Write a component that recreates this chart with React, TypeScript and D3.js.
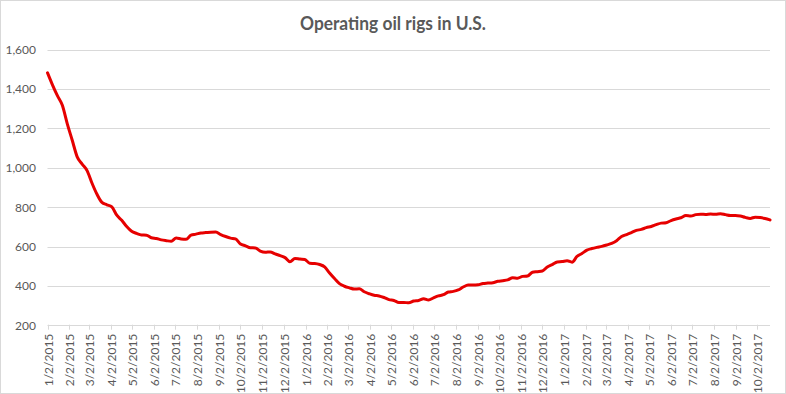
import React from "react";
import * as d3 from "d3";

const W = 786;
const H = 394;

const TITLE = "Operating oil rigs in U.S.";
const START_DATE = "2015-01-02";
const END_DATE = "2017-10-20";

// Weekly US oil rig counts, one value per Friday starting 1/2/2015
const rigs2015: number[] = [
  1482, 1421, 1366, 1317, 1223, 1140, 1056, 1019, 986, 922, 866, 825, 813,
  802, 760, 734, 703, 679, 668, 660, 659, 646, 642, 635, 631, 628, 645, 640,
  638, 659, 664, 670, 672, 674, 675, 662, 652, 644, 640, 614, 605, 595, 594,
  578, 572, 574, 564, 555, 545, 524, 541, 538, 536,
];
const rigs2016: number[] = [
  516, 515, 510, 498, 467, 439, 413, 400, 392, 386, 387, 372, 362, 354, 351,
  343, 332, 328, 318, 318, 316, 325, 328, 337, 330, 341, 351, 357, 371, 374,
  381, 396, 406, 406, 407, 414, 416, 418, 425, 428, 432, 443, 441, 450, 452,
  471, 474, 477, 498, 510, 523, 525,
];
const rigs2017: number[] = [
  529, 522, 551, 566, 583, 591, 597, 602, 609, 617, 631, 652, 662, 672, 683,
  688, 697, 703, 712, 720, 722, 733, 741, 747, 758, 756, 763, 765, 764, 766,
  765, 768, 763, 759, 759, 756, 749, 744, 750, 748, 743, 736,
];

const yTicks: number[] = [200, 400, 600, 800, 1000, 1200, 1400, 1600];
const xTickLabels: string[] = [
  "1/2/2015", "2/2/2015", "3/2/2015", "4/2/2015", "5/2/2015", "6/2/2015",
  "7/2/2015", "8/2/2015", "9/2/2015", "10/2/2015", "11/2/2015", "12/2/2015",
  "1/2/2016", "2/2/2016", "3/2/2016", "4/2/2016", "5/2/2016", "6/2/2016",
  "7/2/2016", "8/2/2016", "9/2/2016", "10/2/2016", "11/2/2016", "12/2/2016",
  "1/2/2017", "2/2/2017", "3/2/2017", "4/2/2017", "5/2/2017", "6/2/2017",
  "7/2/2017", "8/2/2017", "9/2/2017", "10/2/2017",
];

const parseLabel = (s: string) => {
  const [m, d, y] = s.split("/").map(Number);
  return new Date(y, m - 1, d);
};
const parseIso = (s: string) => {
  const [y, m, d] = s.split("-").map(Number);
  return new Date(y, m - 1, d);
};

export default function App() {
  const values = [...rigs2015, ...rigs2016, ...rigs2017];
  const start = parseIso(START_DATE);
  const data = values.map((v, i) => ({
    date: d3.timeDay.offset(start, i * 7),
    value: v,
  }));

  const plotLeft = 47.5;
  const plotRight = 770;
  const plotTop = 49.5;
  const plotBottom = 325.7;

  const x = d3
    .scaleTime()
    .domain([start, parseIso(END_DATE)])
    .range([plotLeft, plotRight]);
  const y = d3.scaleLinear().domain([200, 1600]).range([plotBottom, plotTop]);

  const line = d3
    .line<{ date: Date; value: number }>()
    .x((d) => x(d.date))
    .y((d) => y(d.value))
    .curve(d3.curveMonotoneX);

  const fmt = d3.format(",");
  const labelColor = "#595959";
  const gridColor = "#d9d9d9";
  const font = "Lato, 'Open Sans', sans-serif";

  return (
    <svg
      width={W}
      height={H}
      style={{ position: "absolute", left: 0, top: 0, background: "#fff" }}
    >
      <rect x={0.5} y={0.5} width={W - 1} height={H - 1} fill="#fff" stroke={gridColor} />
      <text
        x={393}
        y={30}
        textAnchor="middle"
        fontFamily={font}
        fontWeight={700}
        fontSize={18.5}
        textLength={186}
        lengthAdjust="spacingAndGlyphs"
        fill={labelColor}
      >
        {TITLE}
      </text>
      {yTicks.map((t) => (
        <g key={t}>
          {t !== 200 && (
            <line
              x1={plotLeft}
              x2={plotRight}
              y1={Math.round(y(t)) + 0.5}
              y2={Math.round(y(t)) + 0.5}
              stroke={gridColor}
              strokeWidth={1}
            />
          )}
          <text
            x={36}
            y={y(t)}
            dy="0.35em"
            textAnchor="end"
            fontFamily={font}
            fontSize={12}
            fill={labelColor}
          >
            {fmt(t)}
          </text>
        </g>
      ))}
      <line
        x1={plotLeft}
        x2={plotRight}
        y1={Math.round(plotBottom) - 0.5}
        y2={Math.round(plotBottom) - 0.5}
        stroke={gridColor}
      />
      {xTickLabels.map((lab) => {
        const px = Math.round(x(parseLabel(lab))) + 0.5;
        return (
          <g key={lab}>
            <line
              x1={px}
              x2={px}
              y1={plotBottom - 1}
              y2={plotBottom + 4}
              stroke={gridColor}
            />
            <text
              transform={`translate(${px + 4},${plotBottom + 8}) rotate(-90)`}
              textAnchor="end"
              fontFamily={font}
              fontSize={12}
              fill={labelColor}
            >
              {lab}
            </text>
          </g>
        );
      })}
      <path
        d={line(data) || ""}
        fill="none"
        stroke="#e60000"
        strokeWidth={3}
        strokeLinejoin="round"
        strokeLinecap="round"
      />
    </svg>
  );
}
